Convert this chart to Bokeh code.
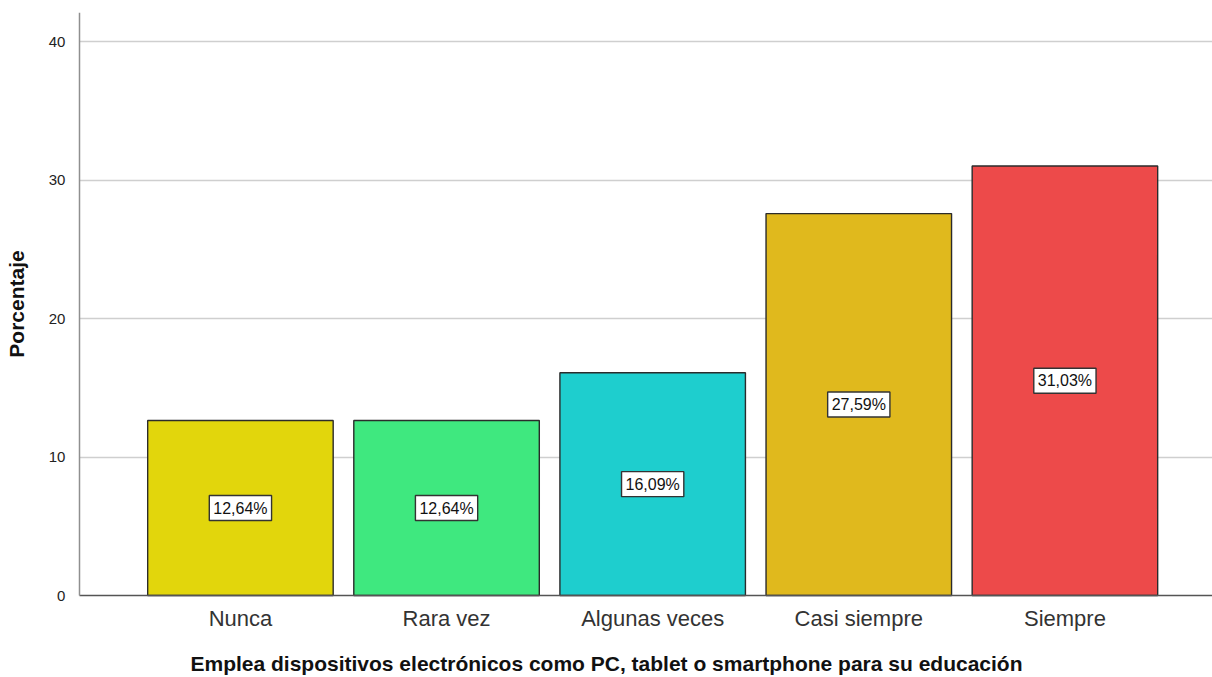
from bokeh.plotting import figure
from bokeh.models import ColumnDataSource, FixedTicker, LinearAxis, Range1d
from bokeh.core.properties import value
from bokeh.embed import file_html
from bokeh.resources import INLINE

# Frequency of use of electronic devices for education (percent)
categories = ["Nunca", "Rara vez", "Algunas veces", "Casi siempre", "Siempre"]
percentages = [12.64, 12.64, 16.09, 27.59, 31.03]
bar_colors = ["#E2D60C", "#3FE87F", "#1ECECE", "#E0B91D", "#ED4A4A"]
y_ticks = [0, 10, 20, 30, 40]

positions = list(range(1, len(categories) + 1))
labels = [f"{v:.2f}".replace(".", ",") + "%" for v in percentages]

source = ColumnDataSource(data=dict(
    x=positions,
    top=percentages,
    mid=[v / 2 for v in percentages],
    color=bar_colors,
    label=labels,
))

# The frame spans the full width so the x-axis title is centred on the page;
# the axis lines sit at fixed locations inside it.
X_START, X_END = -0.164, 5.716
Y_START, Y_END = -0.65, 42.12
Y_AXIS_AT = 0.219

p = figure(
    width=1212, height=677,
    x_range=Range1d(X_START, X_END),
    y_range=Range1d(Y_START, Y_END),
    output_backend="svg",
    toolbar_location=None,
    min_border_left=0, min_border_right=0,
    min_border_top=12, min_border_bottom=73,
)
p.outline_line_color = None
p.background_fill_color = "white"
p.border_fill_color = "white"

# grid: horizontal only, starting at the y axis
p.xgrid.grid_line_color = None
p.ygrid.grid_line_color = "#cfcfcf"
p.ygrid.grid_line_width = 1.5
p.ygrid.ticker = FixedTicker(ticks=y_ticks[1:])
p.ygrid.cross_bounds = (Y_AXIS_AT, X_END)

p.vbar(x="x", top="top", bottom=0, width=0.9, source=source,
       fill_color="color", line_color="#2b2b2b", line_width=1.4)

p.text(x="x", y="mid", text="label", source=source,
       text_align="center", text_baseline="middle",
       text_font=value("Liberation Sans"), text_font_size="16px",
       text_color="#111111",
       background_fill_color="white",
       border_line_color="#333333", border_line_width=1.4,
       padding=[4, 4, 4, 4])

# y axis
yax = p.yaxis[0]
yax.fixed_location = Y_AXIS_AT
yax.bounds = (0, Y_END)
yax.ticker = FixedTicker(ticks=y_ticks)
yax.major_tick_line_color = None
yax.minor_tick_line_color = None
yax.major_label_standoff = 8
yax.major_label_text_font = "Liberation Sans"
yax.major_label_text_font_size = "15px"
yax.major_label_text_color = "#222222"
yax.axis_line_color = "#8f8f8f"
yax.axis_line_width = 1.5
yax.axis_label = "Porcentaje"
yax.axis_label_text_font = "Liberation Sans"
yax.axis_label_text_font_style = "bold"
yax.axis_label_text_font_size = "21px"
yax.axis_label_text_color = "#111111"
yax.axis_label_standoff = 18

# baseline of the bars (x axis line at y = 0)
baseline = LinearAxis(
    fixed_location=0,
    bounds=(Y_AXIS_AT, X_END),
    ticker=FixedTicker(ticks=[]),
    major_tick_line_color=None,
    minor_tick_line_color=None,
    axis_line_color="#555555",
    axis_line_width=1.3,
)
p.add_layout(baseline, "below")

# category labels and axis title below the frame
xax = p.xaxis[0]
xax.ticker = FixedTicker(ticks=positions)
xax.major_label_overrides = {pos: name for pos, name in zip(positions, categories)}
xax.axis_line_color = None
xax.major_tick_line_color = None
xax.minor_tick_line_color = None
xax.major_label_standoff = -5
xax.major_label_text_font = "Liberation Sans"
xax.major_label_text_font_size = "22px"
xax.major_label_text_color = "#333333"
xax.axis_label = "Emplea dispositivos electrónicos como PC, tablet o smartphone para su educación"
xax.axis_label_text_font = "Liberation Sans"
xax.axis_label_text_font_style = "bold"
xax.axis_label_text_font_size = "21px"
xax.axis_label_text_color = "#111111"
xax.axis_label_standoff = 18

open("out.html", "w").write(file_html(p, INLINE))
